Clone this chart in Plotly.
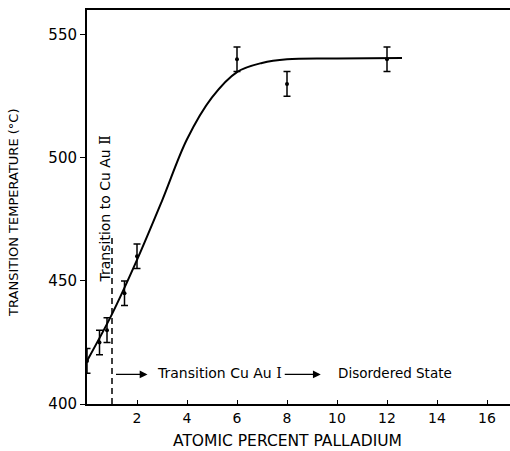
import plotly.graph_objects as go

# Measured transition temperatures (deg C) vs atomic percent palladium
pd_pct = [0, 0.5, 0.8, 1.5, 2, 6, 8, 12]
temp_c = [417.5, 425, 430, 445, 460, 540, 530, 540]
temp_err = [5, 5, 5, 5, 5, 5, 5, 5]

# Smooth fitted curve through the measurements
curve_x = [0, 1, 2, 3, 4, 5, 6, 7, 8, 10, 12.6]
curve_y = [417.5, 436.5, 458.5, 482.5, 507.5, 524.5, 534.8, 538.5, 540, 540.3, 540.5]

# Boundary of the Cu Au II region
boundary_x = [1, 1]
boundary_y = [400, 468]

x_ticks = [2, 4, 6, 8, 10, 12, 14, 16]
y_ticks = [400, 450, 500, 550]

FONT = "DejaVu Sans"
ROMAN = "<span style=\"font-family:'DejaVu Serif'\">{}</span>"

fig = go.Figure()

fig.add_trace(go.Scatter(
    x=curve_x, y=curve_y, mode="lines",
    line=dict(color="black", width=2, shape="spline", smoothing=1.0),
    hoverinfo="skip", showlegend=False, cliponaxis=False,
))

fig.add_trace(go.Scatter(
    x=boundary_x, y=boundary_y, mode="lines",
    line=dict(color="black", width=1.5, dash="6px,4px"),
    hoverinfo="skip", showlegend=False,
))

fig.add_trace(go.Scatter(
    x=pd_pct, y=temp_c, mode="markers",
    marker=dict(color="black", size=4),
    error_y=dict(type="data", array=temp_err, visible=True,
                 color="black", thickness=1.5, width=3.5),
    showlegend=False, cliponaxis=False,
))

ann_font = dict(family=FONT, size=14, color="black")

annotations = [
    # Cu Au II boundary label
    dict(x=0.72, y=479, xref="x", yref="y",
         text="Transition to Cu Au " + ROMAN.format("Ⅱ"),
         textangle=-90, showarrow=False, font=ann_font),
    # Arrows and labels along the bottom
    dict(x=2.42, y=412, ax=1.1, ay=412, xref="x", yref="y", axref="x", ayref="y",
         text="", showarrow=True, arrowhead=2, arrowsize=1.2, arrowwidth=1.3,
         arrowcolor="black"),
    dict(x=2.72, y=412.4, xref="x", yref="y",
         text="Transition Cu Au " + ROMAN.format("Ⅰ"),
         xanchor="left", showarrow=False, font=ann_font),
    dict(x=9.35, y=412, ax=7.85, ay=412, xref="x", yref="y", axref="x", ayref="y",
         text="", showarrow=True, arrowhead=2, arrowsize=1.2, arrowwidth=1.3,
         arrowcolor="black"),
    dict(x=9.96, y=412.4, xref="x", yref="y", text="Disordered State",
         xanchor="left", showarrow=False,
         font=dict(family=FONT, size=13.5, color="black")),
    # Axis titles
    dict(x=8.02, y=-0.094, xref="x", yref="paper", text="ATOMIC PERCENT PALLADIUM",
         xanchor="center", yanchor="middle", showarrow=False,
         font=dict(family=FONT, size=15.5, color="black")),
    dict(x=0, xshift=-73, y=0.485, xref="paper", yref="paper",
         text="TRANSITION TEMPERATURE (°C)", textangle=-90,
         xanchor="center", yanchor="middle", showarrow=False,
         font=dict(family=FONT, size=13, color="black")),
]

fig.update_layout(
    width=510, height=451,
    margin=dict(l=87, r=0, t=10, b=47),
    paper_bgcolor="white", plot_bgcolor="white",
    font=dict(family=FONT, size=14, color="black"),
    annotations=annotations,
    xaxis=dict(range=[0, 16.92], tickvals=x_ticks, ticks="inside", ticklen=4,
               tickwidth=1.3, tickcolor="black", showline=True, linecolor="black",
               linewidth=2, mirror=True, showgrid=False, zeroline=False,
               tickfont=dict(family=FONT, size=14)),
    yaxis=dict(range=[400, 560], tickvals=y_ticks, ticks="outside", ticklen=5,
               tickwidth=1.3, tickcolor="black", showline=True, linecolor="black",
               linewidth=2, showgrid=False, zeroline=False,
               tickfont=dict(family=FONT, size=15)),
)

fig.write_html("out.html")
